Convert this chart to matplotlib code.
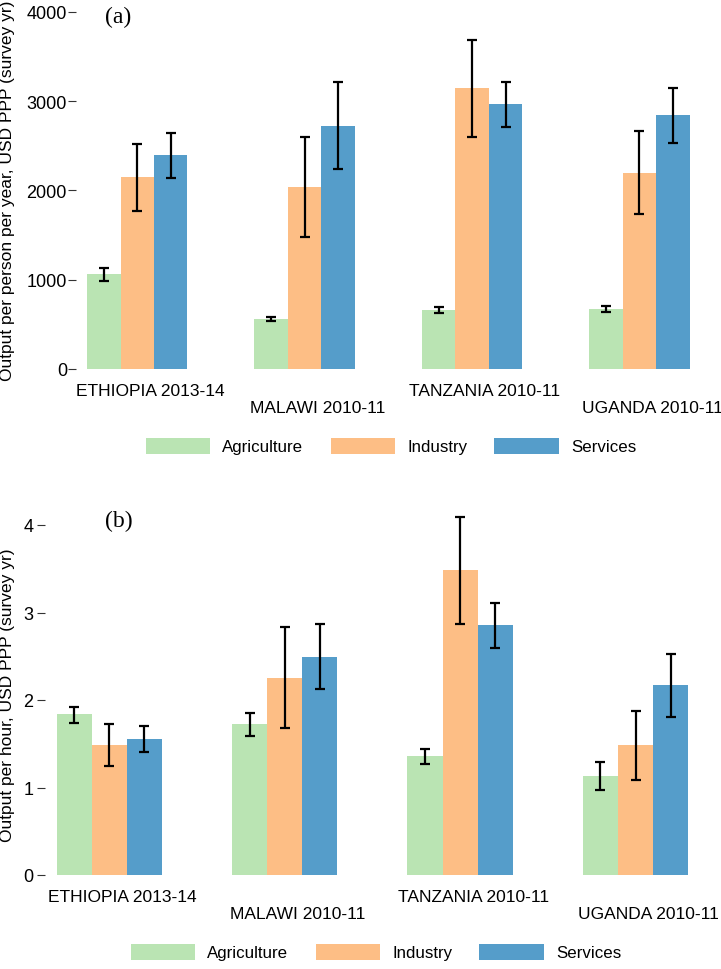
import matplotlib
matplotlib.use("Agg")
import matplotlib.pyplot as plt
import numpy as np

# Survey labels and sectors
surveys = ["ETHIOPIA 2013-14", "MALAWI 2010-11", "TANZANIA 2010-11", "UGANDA 2010-11"]
sectors = ["Agriculture", "Industry", "Services"]
colors = ["#bae4b3", "#fdbe85", "#559dca"]

# (a) output per person per year, USD PPP (value, lower, upper)
year_agri = [1060, 556, 657, 668]
year_agri_lo = [989, 537, 627, 635]
year_agri_hi = [1131, 586, 698, 705]
year_ind = [2147, 2035, 3143, 2198]
year_ind_lo = [1773, 1482, 2598, 1736]
year_ind_hi = [2520, 2598, 3684, 2665]
year_serv = [2393, 2725, 2964, 2841]
year_serv_lo = [2139, 2240, 2710, 2534]
year_serv_hi = [2639, 3210, 3217, 3147]

# (b) output per hour, USD PPP
hour_agri = [1.837, 1.722, 1.36, 1.131]
hour_agri_lo = [1.741, 1.592, 1.272, 0.968]
hour_agri_hi = [1.924, 1.848, 1.44, 1.291]
hour_ind = [1.486, 2.251, 3.486, 1.482]
hour_ind_lo = [1.249, 1.68, 2.872, 1.089]
hour_ind_hi = [1.722, 2.838, 4.095, 1.874]
hour_serv = [1.554, 2.495, 2.861, 2.168]
hour_serv_lo = [1.402, 2.126, 2.598, 1.809]
hour_serv_hi = [1.707, 2.872, 3.112, 2.526]

plt.rcParams["font.family"] = ["Liberation Sans", "DejaVu Sans"]
plt.rcParams["font.size"] = 12

W, H = 721, 970
fig = plt.figure(figsize=(W / 100, H / 100), dpi=100)


def px_axes(left, top, right, bottom):
    return fig.add_axes([left / W, 1 - bottom / H, (right - left) / W, (bottom - top) / H])


def draw_panel(ax, series, ylim, yticks, tick_pad):
    x = np.arange(len(surveys))
    w = 0.2
    for i, (vals, lo, hi) in enumerate(series):
        vals = np.array(vals)
        err = [vals - np.array(lo), np.array(hi) - vals]
        pos = x + (i - 1) * w
        ax.bar(pos, vals, width=w, color=colors[i], label=sectors[i], zorder=2)
        ax.errorbar(pos, vals, yerr=err, fmt="none", ecolor="black",
                    elinewidth=1.6, capsize=3.5, capthick=1.6, zorder=3, clip_on=False)
    ax.set_xlim(-0.366, 3.487)
    ax.set_ylim(*ylim)
    ax.set_yticks(yticks)
    ax.set_xticks([])
    for s in ax.spines.values():
        s.set_visible(False)
    ax.tick_params(axis="y", length=5.5, width=0.8, pad=tick_pad, labelsize=13, color="#333333")
    # staggered survey labels under each group
    for j, name in enumerate(surveys):
        dy = 15.6 if j % 2 == 0 else 27.4
        ax.annotate(name, xy=(x[j] + 0.076, 0), xycoords=("data", "axes fraction"),
                    xytext=(0, -dy), textcoords="offset points",
                    ha="center", va="center", fontsize=12.5)


def add_legend(ax, cx, cy):
    handles, labels = ax.get_legend_handles_labels()
    fig.legend(handles, labels, loc="center", bbox_to_anchor=(cx / W, 1 - cy / H),
               ncol=3, frameon=False, fontsize=12.2, handlelength=3.8, handleheight=1.08,
               handletextpad=0.72, columnspacing=1.6, borderpad=0)


ax_a = px_axes(76, 12.7, 721, 370)
draw_panel(ax_a,
           [(year_agri, year_agri_lo, year_agri_hi),
            (year_ind, year_ind_lo, year_ind_hi),
            (year_serv, year_serv_lo, year_serv_hi)],
           (0, 4000), [0, 1000, 2000, 3000, 4000], 1.0)
fig.text(118 / W, 1 - 17 / H, "(a)", family="Liberation Serif", fontsize=17,
         ha="center", va="center")
fig.text(8 / W, 1 - 191 / H, "Output per person per year, USD PPP (survey yr)",
         rotation=90, ha="center", va="center", fontsize=12.5)
add_legend(ax_a, 391, 447)

ax_b = px_axes(45, 508.5, 721, 876)
draw_panel(ax_b,
           [(hour_agri, hour_agri_lo, hour_agri_hi),
            (hour_ind, hour_ind_lo, hour_ind_hi),
            (hour_serv, hour_serv_lo, hour_serv_hi)],
           (0, 4.2), [0, 1, 2, 3, 4], 3)
fig.text(119 / W, 1 - 521 / H, "(b)", family="Liberation Serif", fontsize=17,
         ha="center", va="center")
fig.text(8 / W, 1 - 695 / H, "Output per hour, USD PPP (survey yr)",
         rotation=90, ha="center", va="center", fontsize=12.5)
add_legend(ax_b, 376, 953)

fig.savefig("out.png", dpi=100)
